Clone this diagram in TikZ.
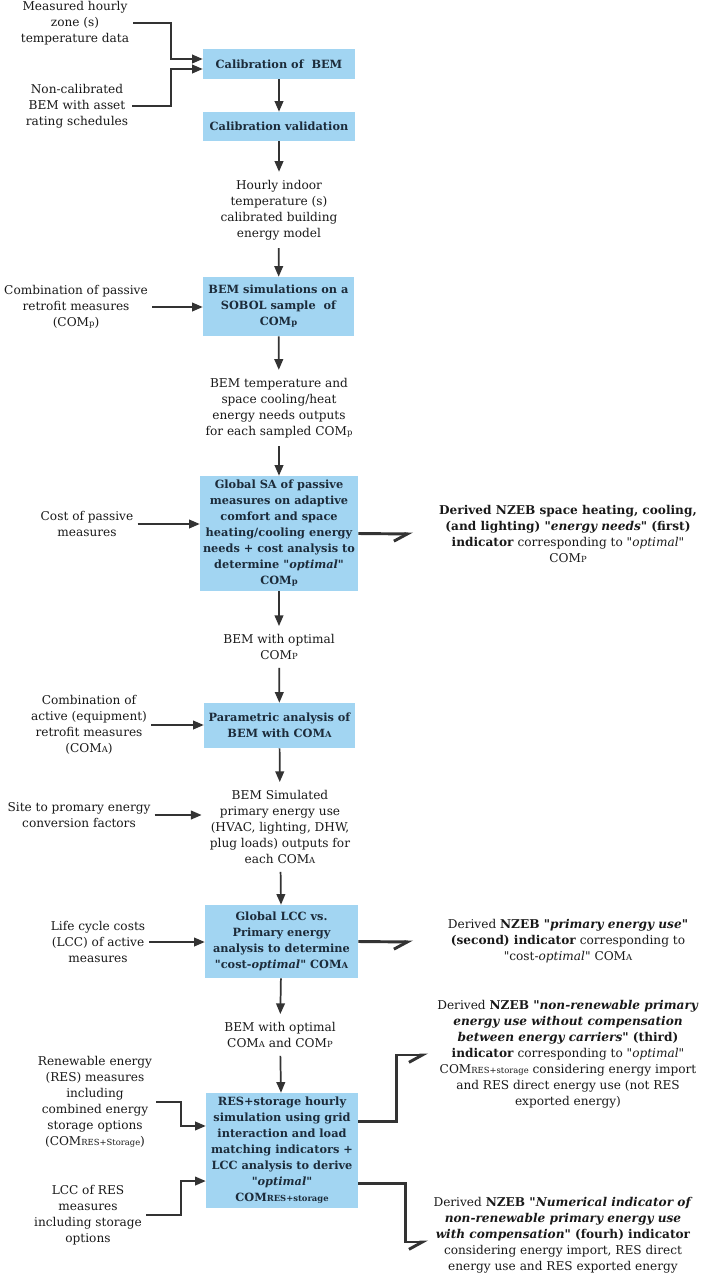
\documentclass[tikz,border=0pt]{standalone}
\usepackage{fontspec}
\setmainfont{DejaVu Serif}[Ligatures=TeXOff]
\usetikzlibrary{arrows.meta}
\definecolor{boxblue}{HTML}{A2D5F2}
\definecolor{boxtext}{HTML}{1C2B3A}
\definecolor{linegray}{HTML}{333333}
\newcommand{\lo}[1]{{\fontsize{6.3}{6.3}\selectfont #1}}

\begin{document}
\begin{tikzpicture}[x=0.75pt, y=-0.75pt, font=\fontsize{9.1}{12}\selectfont,
    stepbox/.style={fill=boxblue, text=boxtext, font=\fontsize{8.5}{12}\selectfont\bfseries, align=center, inner sep=2pt},
    txt/.style={align=center, text=black!90, inner sep=6pt},
    side/.style={align=center, text=black!90, inner sep=3pt},
    arr/.style={draw=linegray, line width=1.3pt, -{Triangle[length=8pt,width=6.5pt]}},
    res/.style={draw=linegray, line width=2.2pt, -{Straight Barb[harpoon,swap,length=10pt,width=11pt]}}]
    \useasboundingbox (0,0) rectangle (701,1283);

    % Main column
    \node[stepbox, minimum width=114pt, minimum height=22.5pt] (calib) at (279,64) {Calibration of\ \ BEM};
    \node[stepbox, minimum width=114pt, minimum height=21.75pt] (valid) at (279,126.5) {Calibration validation};
    \node[txt] (hourly) at (279,210) {Hourly indoor\\temperature (s)\\calibrated building\\energy model};
    \node[stepbox, minimum width=113.25pt, minimum height=44.25pt] (sobol) at (278.5,306.5) {BEM simulations on a\\SOBOL sample\ \ of\\COM\lo{p}};
    \node[txt] (bemtemp) at (279,408) {BEM temperature and\\space cooling/heat\\energy needs outputs\\for each sampled COM\lo{p}};
    \node[stepbox, minimum width=118.5pt, minimum height=86.25pt] (globsa) at (279,533.5) {Global SA of passive\\measures on adaptive\\comfort and space\\heating/cooling energy\\needs + cost analysis to\\determine "\textit{optimal}"\\COM\lo{p}};
    \node[txt] (withp) at (279,647) {BEM with optimal\\COM\lo{P}};
    \node[stepbox, minimum width=113.25pt, minimum height=33.75pt] (param) at (279.5,725.5) {Parametric analysis of\\BEM with COM\lo{A}};
    \node[txt] (bemsim) at (280,827) {BEM Simulated\\primary energy use\\(HVAC, lighting, DHW,\\plug loads) outputs for\\each COM\lo{A}};
    \node[stepbox, minimum width=114.75pt, minimum height=54.75pt] (glcc) at (281.5,941.5) {Global LCC vs.\\Primary energy\\analysis to determine\\"cost-\textit{optimal}" COM\lo{A}};
    \node[txt] (withap) at (280,1035) {BEM with optimal\\COM\lo{A} and COM\lo{P}};
    \node[stepbox, minimum width=114pt, minimum height=86.25pt] (ressim) at (282,1150.5) {RES+storage hourly\\simulation using grid\\interaction and load\\matching indicators +\\LCC analysis to derive\\"\textit{optimal}"\\COM\lo{RES+storage}};

    % Inputs
    \node[side] (in1) at (75,23) {Measured hourly\\zone (s)\\temperature data};
    \node[side] (in2) at (77,106) {Non-calibrated\\BEM with asset\\rating schedules};
    \node[side] (in3) at (76,307) {Combination of passive\\retrofit measures\\(COM\lo{p})};
    \node[side] (in4) at (87,524) {Cost of passive\\measures};
    \node[side] (in5) at (89,725) {Combination of\\active (equipment)\\retrofit measures\\(COM\lo{A})};
    \node[side] (in6) at (79,815) {Site to promary energy\\conversion factors};
    \node[side] (in7) at (98,942) {Life cycle costs\\(LCC) of active\\measures};
    \node[side] (in8) at (95,1102) {Renewable energy\\(RES) measures\\including\\combined energy\\storage options\\(COM\lo{RES+Storage})};
    \node[side] (in9) at (88,1215) {LCC of RES\\measures\\including storage\\options};

    % Indicators
    \node[side] (out1) at (568,534) {\textbf{Derived NZEB space heating, cooling,}\\\textbf{(and lighting) "\textit{energy needs}" (first)}\\\textbf{indicator} corresponding to "\textit{optimal}"\\COM\lo{P}};
    \node[side] (out2) at (568,941) {Derived \textbf{NZEB "\textit{primary energy use}"}\\\textbf{(second) indicator} corresponding to\\"cost-\textit{optimal}" COM\lo{A}};
    \node[side] (out3) at (568,1054) {Derived \textbf{NZEB "\textit{non-renewable primary}}\\\textbf{\textit{energy use without compensation}}\\\textbf{\textit{between energy carriers}" (third)}\\\textbf{indicator} corresponding to "\textit{optimal}"\\COM\lo{RES+storage} considering energy import\\and RES direct energy use (not RES\\exported energy)};
    \node[side] (out4) at (563,1235) {Derived \textbf{NZEB "\textit{Numerical indicator of}}\\\textbf{\textit{non-renewable primary energy use}}\\\textbf{\textit{with compensation}" (fourh) indicator}\\considering energy import, RES direct\\energy use and RES exported energy};

    \coordinate (bx1) at (171,0);
    \coordinate (bx2) at (181,0);
    \coordinate (o1) at (413,534);
    \coordinate (o2) at (413,942);
    \coordinate (o3) at (428,1055);
    \coordinate (o4) at (428,1242);

    % Flow
    \draw[arr] (calib) -- (valid);
    \draw[arr] (valid) -- (hourly);
    \draw[arr] (hourly) -- (sobol);
    \draw[arr] (sobol) -- (bemtemp);
    \draw[arr] (bemtemp) -- (globsa);
    \draw[arr] (globsa) -- (withp);
    \draw[arr] (withp) -- (param);
    \draw[arr] (param) -- (bemsim);
    \draw[arr] (bemsim) -- (glcc);
    \draw[arr] (glcc) -- (withap);
    \draw[arr] (withap) -- (ressim);

    % Input edges
    \draw[arr] (in1.east) -- (in1.east -| bx1) |- ([yshift=3.75pt]calib.west);
    \draw[arr] (in2.east) -- (in2.east -| bx1) |- ([yshift=-3.75pt]calib.west);
    \draw[arr] (in3.east) -- (in3.east -| sobol.west);
    \draw[arr] (in4.east) -- (in4.east -| globsa.west);
    \draw[arr] (in5.east) -- (in5.east -| param.west);
    \draw[arr] (in6.east) -- (in6.east -| bemsim.west);
    \draw[arr] (in7.east) -- (in7.east -| glcc.west);
    \draw[arr] (in8.east) -- (in8.east -| bx2) |- ([yshift=18.4pt]ressim.west);
    \draw[arr] (in9.east) -- (in9.east -| bx2) |- ([yshift=-22.9pt]ressim.west);

    % Indicator edges
    \draw[res] (globsa.east) -- (o1);
    \draw[res] (glcc.east) -- (o2);
    \draw[res] ([yshift=22.1pt]ressim.east) -- ++(38,0) |- (o3);
    \draw[res] ([yshift=-24.4pt]ressim.east) -- ++(47,0) |- (o4);
\end{tikzpicture}
\end{document}
